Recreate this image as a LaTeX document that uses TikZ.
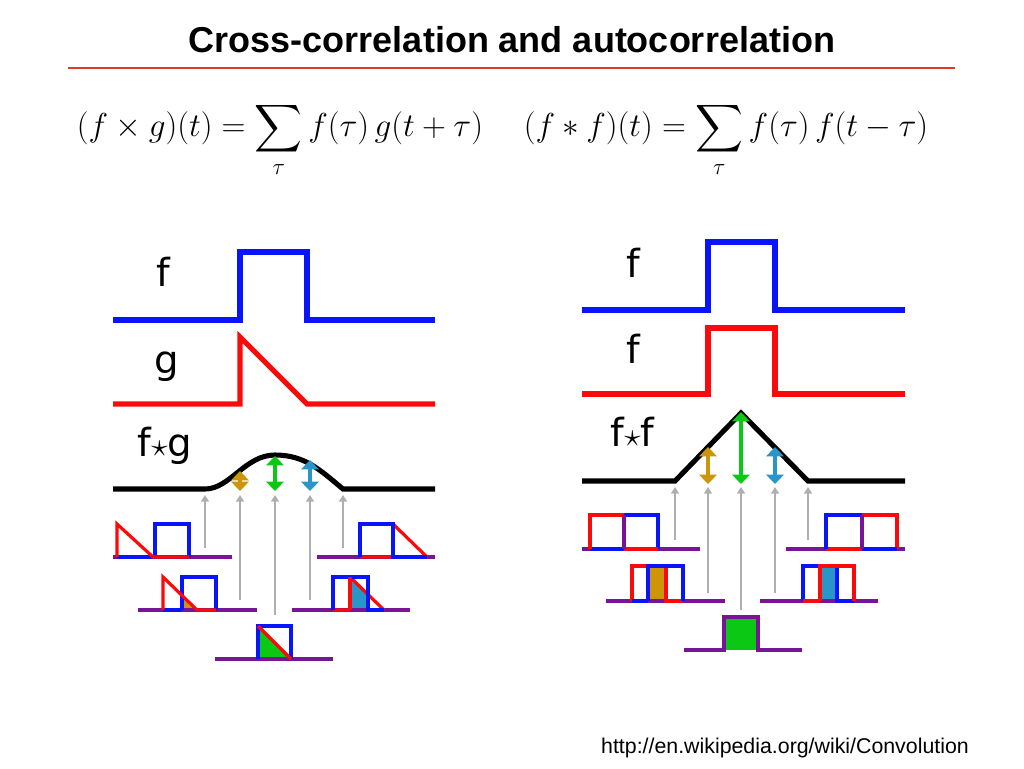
\documentclass[tikz,border=0pt]{standalone}
\usepackage{amsmath}
\usepackage{fontspec}
\setmainfont{Liberation Sans}
\newfontfamily\labfont{DejaVu Sans}
\usetikzlibrary{arrows.meta}
\definecolor{cblue}{RGB}{10,20,250}
\definecolor{cred}{RGB}{250,10,10}
\definecolor{cpurple}{RGB}{120,20,150}
\definecolor{cgold}{RGB}{205,150,10}
\definecolor{ccyan}{RGB}{40,150,200}
\definecolor{cgreen}{RGB}{10,200,20}
\definecolor{cgray}{RGB}{175,175,175}
\definecolor{cline}{RGB}{220,60,40}
\tikzset{
  big/.style={line width=3.8pt, line join=miter},
  small/.style={line width=2.4pt},
  up/.style={cgray, line width=1.8pt, -{Triangle[width=6pt,length=5pt]}},
  both/.style={line width=3pt, {Triangle[width=13pt,length=7pt]}-{Triangle[width=13pt,length=7pt]}},
  lab/.style={font=\labfont\fontsize{29}{29}\selectfont, anchor=base west},
}
\begin{document}
\begin{tikzpicture}[x=0.75pt,y=-0.75pt]
\useasboundingbox (0,0) rectangle (1024,768);
%\draw[help lines,step=50] (0,0) grid (1024,768);
\node (title) [font=\bfseries\fontsize{27}{29}\selectfont] at (512,40) {Cross-correlation and autocorrelation};
\draw [cline, line width=2pt] (68,68) -- (955,68);
\node (eq1) [font=\fontsize{25}{28}\selectfont] at (280,140) {$\displaystyle (f\times g)(t)=\sum_{\tau} f(\tau)\,g(t+\tau)$};
\node (eq2) [font=\fontsize{25}{28}\selectfont] at (726,140) {$\displaystyle (f*f)(t)=\sum_{\tau} f(\tau)\,f(t-\tau)$};
\node (url) [font=\fontsize{16}{18}\selectfont] at (785,748) {http://en.wikipedia.org/wiki/Convolution};

% left: cross-correlation
\node (lf) [lab] at (152,286) {f};
\node (lg) [lab] at (150,373) {g};
\node (lfg) [lab] at (133,456) {f$\star$g};
\draw [big, cblue] (113,320) -- (240,320) -- (240,252) -- (307,252) -- (307,320) -- (435,320);
\draw [big, cred] (113,404) -- (240,404) -- (240,337) -- (307,404) -- (435,404);
\draw [big, black] (113,489) -- (205,489) .. controls (230,489) and (245,455) .. (275,455)
  .. controls (305,455) and (320,470) .. (343,489) -- (435,489);
% small plots
\draw [small, cpurple] (113,557) -- (232,557);
\draw [small, cblue] (117,557) -- (153,557) (155,557) -- (155,524) -- (189,524) -- (189,557);
\draw [small, cred] (117,557) -- (117,524) -- (153,557) -- (189,557);
\draw [small, cpurple] (317,557) -- (435,557);
\draw [small, cred] (360,557) -- (393,557) (393,524) -- (427,557);
\draw [small, cblue] (360,557) -- (360,524) -- (393,524) -- (393,557) -- (427,557);
\fill [cgold] (182,595) -- (197,610) -- (182,610) -- cycle;
\draw [small, cpurple] (138,610) -- (257,610);
\draw [small, cblue] (163,610) -- (182,610) (182,610) -- (182,577) -- (216,577) -- (216,610);
\draw [small, cred] (163,610) -- (163,577) -- (197,610) -- (216,610);
\fill [ccyan] (350,577) -- (368,595) -- (368,610) -- (350,610) -- cycle;
\draw [small, cpurple] (292,610) -- (410,610);
\draw [small, cred] (333,610) -- (350,610) (350,577) -- (384,610);
\draw [small, cblue] (333,610) -- (333,577) -- (368,577) -- (368,610) -- (384,610);
\draw [small, cred] (350,610) -- (350,577);
\fill [cgreen] (258,626) -- (291,659) -- (258,659) -- cycle;
\draw [small, cpurple] (215,659) -- (333,659);
\draw [small, cblue] (258,659) -- (258,626) -- (291,626) -- (291,659);
\draw [small, cred] (258,626) -- (291,659);
% arrows
\coordinate (la1) at (205,548); \coordinate (lt1) at (205,495);
\coordinate (la2) at (240,600); \coordinate (lt2) at (240,495);
\coordinate (la3) at (275,615); \coordinate (lt3) at (275,495);
\coordinate (la4) at (310,600); \coordinate (lt4) at (310,495);
\coordinate (la5) at (343,548); \coordinate (lt5) at (343,495);
\coordinate (lb2) at (240,471); \coordinate (lc2) at (240,491);
\coordinate (lb3) at (275,456); \coordinate (lc3) at (275,491);
\coordinate (lb4) at (310,460); \coordinate (lc4) at (310,491);
\path
(la1) edge [up] (lt1)
(la2) edge [up] (lt2)
(la3) edge [up] (lt3)
(la4) edge [up] (lt4)
(la5) edge [up] (lt5)
(lb2) edge [both, cgold] (lc2)
(lb3) edge [both, cgreen] (lc3)
(lb4) edge [both, ccyan] (lc4);

% right: autocorrelation
\node (rf1) [lab] at (622,277) {f};
\node (rf2) [lab] at (622,363) {f};
\node (rff) [lab] at (606,446) {f$\star$f};
\draw [big, cblue] (582,310) -- (708,310) -- (708,242) -- (775,242) -- (775,310) -- (905,310);
\draw [big, cred] (582,394) -- (708,394) -- (708,328) -- (775,328) -- (775,394) -- (905,394);
\draw [big, black] (582,481) -- (675,481) -- (741,413) -- (808,481) -- (905,481);
% small plots
\draw [small, cpurple] (582,549) -- (700,549);
\draw [small, cblue] (590,549) -- (624,549) (624,515) -- (658,515) -- (658,549);
\draw [small, cred] (590,549) -- (590,515) -- (624,515) (624,549) -- (658,549);
\draw [small, cpurple] (624,515) -- (624,549);
\draw [small, cpurple] (786,549) -- (905,549);
\draw [small, cred] (826,549) -- (862,549) (862,515) -- (897,515) -- (897,549);
\draw [small, cblue] (826,549) -- (826,515) -- (862,515) (862,549) -- (897,549);
\draw [small, cpurple] (862,515) -- (862,549);
\fill [cgold] (648,566) rectangle (666,601);
\draw [small, cpurple] (606,601) -- (725,601);
\draw [small, cred] (632,601) -- (632,566) -- (666,566) -- (666,601) -- (683,601);
\draw [small, cblue] (632,601) -- (648,601) (648,601) -- (648,566) -- (683,566) -- (683,601);
\fill [ccyan] (820,566) rectangle (837,601);
\draw [small, cpurple] (760,601) -- (878,601);
\draw [small, cblue] (803,601) -- (803,566) -- (837,566) -- (837,601) -- (854,601);
\draw [small, cred] (803,601) -- (820,601) (820,601) -- (820,566) -- (854,566) -- (854,601);
\fill [cgreen] (724,617) rectangle (758,650);
\draw [small, cpurple] (684,650) -- (724,650) -- (724,617) -- (758,617) -- (758,650) -- (802,650);
% arrows
\coordinate (ra1) at (675,540); \coordinate (rt1) at (675,487);
\coordinate (ra2) at (708,593); \coordinate (rt2) at (708,487);
\coordinate (ra3) at (741,610); \coordinate (rt3) at (741,487);
\coordinate (ra4) at (775,593); \coordinate (rt4) at (775,487);
\coordinate (ra5) at (808,540); \coordinate (rt5) at (808,487);
\coordinate (rb2) at (708,447); \coordinate (rc2) at (708,484);
\coordinate (rb3) at (741,412); \coordinate (rc3) at (741,484);
\coordinate (rb4) at (775,447); \coordinate (rc4) at (775,484);
\path
(ra1) edge [up] (rt1)
(ra2) edge [up] (rt2)
(ra3) edge [up] (rt3)
(ra4) edge [up] (rt4)
(ra5) edge [up] (rt5)
(rb2) edge [both, cgold] (rc2)
(rb3) edge [both, cgreen] (rc3)
(rb4) edge [both, ccyan] (rc4);
\end{tikzpicture}
\end{document}
